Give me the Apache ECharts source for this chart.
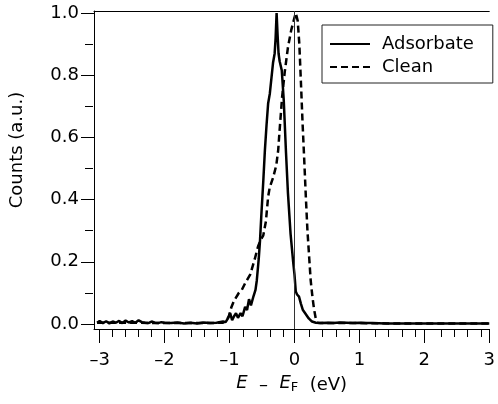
<!DOCTYPE html>
<html>
<head>
<meta charset="utf-8">
<script src="https://cdn.jsdelivr.net/npm/echarts@6/dist/echarts.min.js"></script>
<style>html,body{margin:0;padding:0;background:#fff}#c{width:498px;height:404px}</style>
</head>
<body>
<div id="c"></div>
<script>
// ---- data ----
var adsorbateE = [-3.04,-3.0,-2.95,-2.9,-2.85,-2.8,-2.75,-2.7,-2.65,-2.6,-2.55,-2.5,-2.45,-2.4,-2.35,-2.3,-2.25,-2.2,-2.15,-2.1,-2.05,-2.0,-1.9,-1.8,-1.7,-1.6,-1.5,-1.4,-1.3,-1.2,-1.1,
  -1.06,-1.02,-0.99,-0.96,-0.93,-0.90,-0.87,-0.83,-0.80,-0.76,-0.73,-0.70,-0.67,-0.63,-0.60,-0.58,-0.55,-0.53,-0.51,-0.48,-0.455,-0.43,-0.405,-0.38,-0.355,-0.33,-0.305,-0.29,-0.275,-0.26,-0.245,-0.228,-0.195,-0.165,-0.13,-0.10,-0.06,-0.02,0.0,0.02,0.04,0.07,0.10,0.13,0.17,0.22,0.27,0.33,0.4,
  0.5,0.6,0.7,0.8,0.9,1.0,1.1,1.2,1.4,1.6,1.8,2.0,2.2,2.4,2.6,2.8,3.0];
var adsorbateCounts = [0.004,0.010,0.003,0.009,0.002,0.008,0.004,0.010,0.003,0.011,0.005,0.009,0.004,0.012,0.006,0.004,0.003,0.008,0.004,0.003,0.006,0.004,0.003,0.005,0.002,0.004,0.002,0.005,0.003,0.004,0.008,
  0.006,0.02,0.035,0.012,0.025,0.035,0.02,0.035,0.025,0.055,0.045,0.08,0.06,0.09,0.11,0.14,0.21,0.27,0.35,0.46,0.56,0.64,0.71,0.74,0.79,0.84,0.87,0.92,1.0,0.93,0.87,0.845,0.815,0.72,0.55,0.42,0.29,0.2,0.16,0.105,0.095,0.088,0.065,0.045,0.033,0.018,0.008,0.004,0.003,
  0.004,0.003,0.005,0.004,0.003,0.004,0.003,0.003,0.002,0.002,0.002,0.002,0.002,0.002,0.002,0.002,0.002];
var cleanE = [-3.04,-2.5,-2.0,-1.5,-1.1,-1.05,-1.01,-0.97,-0.93,-0.86,-0.81,-0.76,-0.68,-0.61,-0.56,-0.52,-0.48,-0.455,-0.44,-0.405,-0.38,-0.33,-0.28,-0.25,-0.23,-0.19,-0.15,-0.10,-0.05,0.0,0.02,0.05,0.075,0.10,0.125,0.15,0.175,0.20,0.228,0.25,0.278,0.30,0.33,0.355,0.4,0.6,1.0,1.5,2.0,2.5,3.0];
var cleanCounts = [0.004,0.004,0.003,0.003,0.004,0.01,0.025,0.055,0.075,0.099,0.11,0.131,0.16,0.21,0.25,0.27,0.285,0.28,0.33,0.41,0.44,0.47,0.51,0.56,0.62,0.73,0.81,0.89,0.945,0.985,1.0,0.975,0.9,0.775,0.645,0.53,0.41,0.30,0.21,0.14,0.085,0.05,0.015,0.004,0.003,0.003,0.003,0.002,0.002,0.002,0.002];
var xMajorTicks = [-3,-2,-1,0,1,2,3];
var xMinorTicks = [-2.8,-2.6,-2.4,-2.2,-1.8,-1.6,-1.4,-1.2,-0.8,-0.6,-0.4,-0.2,0.2,0.4,0.6,0.8,1.2,1.4,1.6,1.8,2.2,2.4,2.6,2.8];
var yMajorTicks = [0,0.2,0.4,0.6,0.8,1.0];
var yMinorTicks = [0.1,0.3,0.5,0.7,0.9];
var seriesNames = ['Adsorbate','Clean'];

function pairs(xs, ys){ return xs.map(function(x,i){ return [x, ys[i]]; }); }

var FONT = 'DejaVu Sans';
var X_MIN = -3.087, X_MAX = 3.0, Y_MIN = -0.016, Y_MAX = 1.0065;
var gridRect = {left: 93, right: 4, top: 11, bottom: 75};

var chart = echarts.init(document.getElementById('c'), null, {renderer: 'canvas'});
chart.setOption({
  backgroundColor: '#fff',
  animation: false,
  grid: [
    Object.assign({containLabel: false}, gridRect),
    Object.assign({containLabel: false}, gridRect)
  ],
  legend: {
    orient: 'vertical', left: 322, top: 25,
    itemWidth: 40, itemHeight: 18, itemGap: 5,
    padding: [10, 19, 7, 7],
    borderColor: '#222', borderWidth: 1,
    itemStyle: {color: 'rgba(0,0,0,0)', borderWidth: 0, opacity: 0},
    lineStyle: {width: 2},
    textStyle: {fontFamily: FONT, fontSize: 18, color: '#000', padding: [0,0,0,7]},
    data: seriesNames
  },
  xAxis: [
    {
      type: 'value', gridIndex: 0, position: 'bottom', min: X_MIN, max: X_MAX,
      axisLine: {show: true, onZero: false, lineStyle: {color: '#000', width: 1}},
      axisTick: {show: true, inside: false, length: 14, customValues: xMajorTicks, lineStyle: {color: '#000', width: 1}},
      axisLabel: {show: true, customValues: xMajorTicks, margin: 22, fontFamily: FONT, fontSize: 18, color: '#000',
        formatter: function(v){ return String(Math.round(v)).replace('-', '\u2013'); }},
      splitLine: {show: false},
      name: '{i|E}  \u2013  {i|E}{s|F}  (eV)',
      nameLocation: 'middle', nameGap: 43,
      nameTextStyle: {
        fontFamily: FONT, fontSize: 18, color: '#000', verticalAlign: 'top', lineHeight: 22,
        rich: {
          i: {fontFamily: FONT, fontSize: 18, fontStyle: 'italic', color: '#000', verticalAlign: 'top', lineHeight: 22},
          s: {fontFamily: FONT, fontSize: 13, color: '#000', verticalAlign: 'top', lineHeight: 22, padding: [7,0,0,0]}
        }
      }
    },
    {
      type: 'value', gridIndex: 0, position: 'top', min: X_MIN, max: X_MAX,
      axisLine: {show: true, onZero: false, lineStyle: {color: '#000', width: 1}},
      axisTick: {show: false}, axisLabel: {show: false}, splitLine: {show: false}
    },
    {
      type: 'value', gridIndex: 1, position: 'bottom', min: X_MIN, max: X_MAX,
      axisLine: {show: false, onZero: false},
      axisTick: {show: true, inside: false, length: 8, customValues: xMinorTicks, lineStyle: {color: '#000', width: 1}},
      axisLabel: {show: false}, splitLine: {show: false}
    }
  ],
  yAxis: [
    {
      type: 'value', gridIndex: 0, position: 'left', min: Y_MIN, max: Y_MAX,
      axisLine: {show: true, onZero: false, lineStyle: {color: '#000', width: 1}},
      axisTick: {show: true, inside: false, length: 13, customValues: yMajorTicks, lineStyle: {color: '#000', width: 1}},
      axisLabel: {show: true, customValues: yMajorTicks, margin: 15, fontFamily: FONT, fontSize: 18, color: '#000',
        formatter: function(v){ return v.toFixed(1); }},
      splitLine: {show: false},
      name: 'Counts (a.u.)', nameLocation: 'middle', nameGap: 68, nameRotate: 90,
      nameTextStyle: {fontFamily: FONT, fontSize: 18, color: '#000', padding: [0,0,0,40]}
    },
    {
      type: 'value', gridIndex: 1, position: 'left', min: Y_MIN, max: Y_MAX,
      axisLine: {show: false, onZero: false},
      axisTick: {show: true, inside: false, length: 8, customValues: yMinorTicks, lineStyle: {color: '#000', width: 1}},
      axisLabel: {show: false}, splitLine: {show: false}
    }
  ],
  series: [
    {
      name: seriesNames[0], type: 'line', xAxisIndex: 0, yAxisIndex: 0,
      data: pairs(adsorbateE, adsorbateCounts),
      showSymbol: false, symbol: 'none', smooth: false,
      lineStyle: {color: '#000', width: 2.5, type: 'solid'},
      itemStyle: {color: '#000'},
      z: 3,
      markLine: {
        silent: true, symbol: ['none','none'], label: {show: false},
        lineStyle: {color: '#333', width: 1, type: 'solid'},
        data: [{xAxis: 0}]
      }
    },
    {
      name: seriesNames[1], type: 'line', xAxisIndex: 0, yAxisIndex: 0,
      data: pairs(cleanE, cleanCounts),
      showSymbol: false, symbol: 'none', smooth: false,
      lineStyle: {color: '#000', width: 2.5, type: [7,4]},
      itemStyle: {color: '#000'},
      z: 3
    }
  ]
});
</script>
</body>
</html>
